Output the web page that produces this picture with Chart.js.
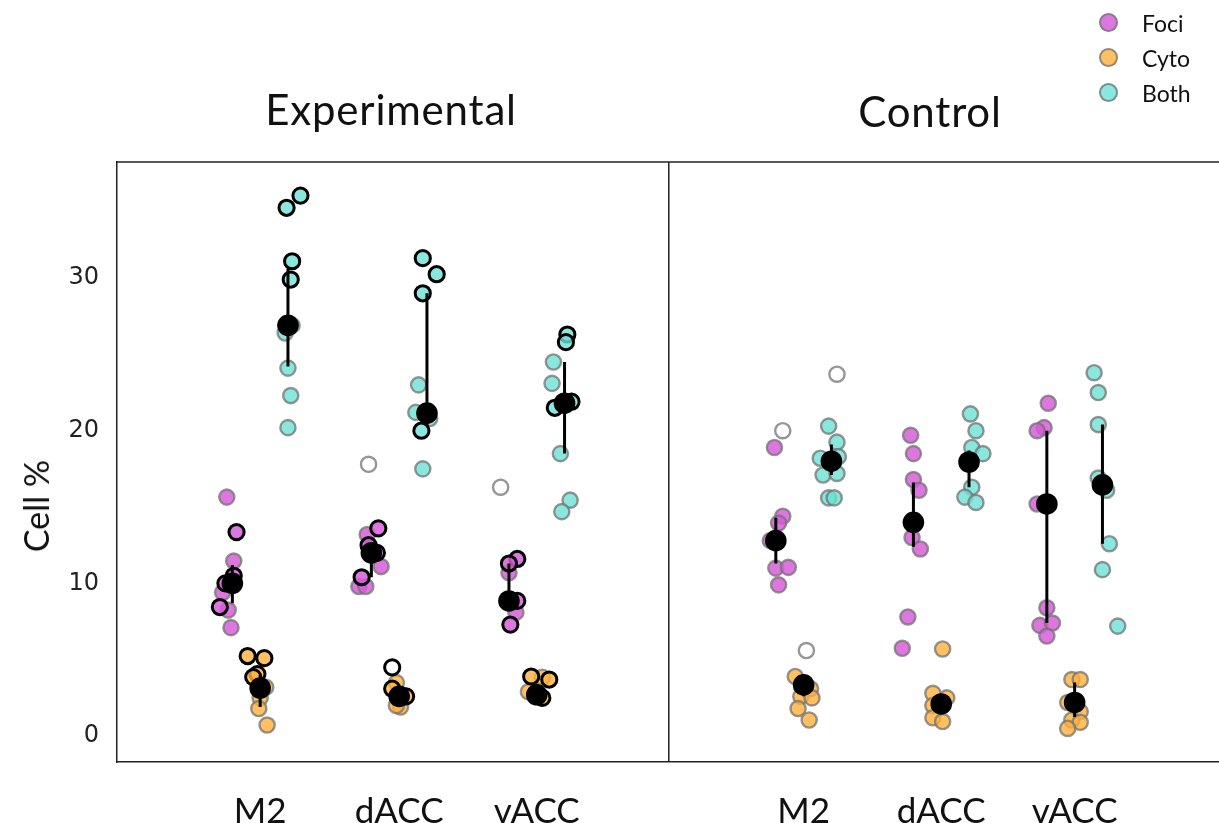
<!DOCTYPE html>
<html>
<head>
<meta charset="utf-8">
<script src="https://cdn.jsdelivr.net/npm/chart.js@4.4.1/dist/chart.umd.min.js"></script>
<style>
  html, body { margin: 0; padding: 0; background: #fff; overflow: hidden; }
  #wrap { position: relative; width: 1219px; height: 823px; overflow: hidden; }
  #chart { position: absolute; left: 0; top: 0; }
  .txt { position: absolute; font-family: Lato, 'Noto Sans', sans-serif; color: #111; white-space: nowrap; line-height: 1; transform: translate(-50%, -50%); }
  .panel-title { font-size: 42px; letter-spacing: 0.8px; }
  .y-title { font-size: 34px; transform: translate(-50%, -50%) rotate(-90deg); }
  .legend { position: absolute; left: 1099px; top: 5px; font-family: Lato, 'Noto Sans', sans-serif; font-size: 23px; color: #111; }
  .legend div { display: flex; align-items: center; height: 35px; }
  .legend span.dot { width: 15px; height: 15px; border-radius: 50%; border: 2.5px solid rgba(120,120,120,0.8); margin-right: 24px; }
</style>
</head>
<body>
<div id="wrap">
  <canvas id="chart" width="1230" height="823"></canvas>
  <div class="txt panel-title" style="left:391px; top:109px;">Experimental</div>
  <div class="txt panel-title" style="left:930px; top:111px;">Control</div>
  <div class="txt y-title" style="left:36px; top:506px;">Cell %</div>
  <div class="legend" id="legend"></div>
</div>
<script>
// ─── Data ─────────────────────────────────────────────────────────────────────
const panels  = ['Experimental', 'Control'];
const regions = ['M2', 'dACC', 'vACC'];
const groups  = ['Foci', 'Cyto', 'Both'];
const yTicks  = [0, 10, 20, 30];

// one entry per animal: [cell %, jitter from group centre, rim]
// rim: g = grey, b = bold, o = open grey, ob = open bold
const expM2Foci   = [[15.65, -0.04, 'g'], [13.36, 0.03, 'b'], [11.46, 0.01, 'g'], [10.5, 0.01, 'b'], [10.0, -0.05, 'b'], [9.4, -0.07, 'g'], [8.45, -0.09, 'b'], [8.25, -0.03, 'g'], [7.1, -0.01, 'g']];
const expM2Cyto   = [[5.24, -0.09, 'b'], [5.1, 0.03, 'b'], [4.06, -0.02, 'b'], [3.86, -0.05, 'b'], [3.2, 0.04, 'g'], [2.5, 0, 'g'], [1.8, -0.01, 'g'], [0.72, 0.05, 'g']];
const expM2Both   = [[35.4, 0.09, 'b'], [34.6, -0.01, 'b'], [31.1, 0.03, 'b'], [29.9, 0.02, 'b'], [26.9, 0.03, 'g'], [26.4, -0.02, 'g'], [24.1, 0, 'g'], [22.3, 0.02, 'g'], [20.2, 0, 'g']];
const expDaccFoci = [[17.8, -0.02, 'o'], [13.6, 0.05, 'b'], [13.2, -0.03, 'g'], [12.5, -0.02, 'b'], [12.0, 0.04, 'b'], [11.1, 0.07, 'g'], [10.4, -0.07, 'b'], [9.8, -0.09, 'g'], [9.8, -0.04, 'g']];
const expDaccCyto = [[4.5, -0.05, 'ob'], [3.5, -0.02, 'g'], [3.1, -0.05, 'b'], [2.6, 0.05, 'b'], [1.9, 0.01, 'g'], [2.0, -0.02, 'g']];
const expDaccBoth = [[31.3, -0.03, 'b'], [30.25, 0.07, 'b'], [29.0, -0.03, 'b'], [23.0, -0.06, 'g'], [21.2, -0.08, 'g'], [20.8, 0.02, 'g'], [20.0, -0.04, 'b'], [17.5, -0.03, 'g']];
const expVaccFoci = [[16.3, -0.06, 'o'], [11.6, 0.06, 'b'], [11.3, 0, 'b'], [10.7, 0, 'g'], [8.85, 0.06, 'b'], [8.1, 0.05, 'g'], [7.3, 0.01, 'b']];
const expVaccCyto = [[3.9, -0.04, 'b'], [3.7, 0.09, 'b'], [3.85, 0.04, 'g'], [2.9, -0.06, 'g'], [2.5, 0.04, 'b']];
const expVaccBoth = [[26.3, 0.02, 'b'], [25.8, 0.01, 'b'], [24.5, -0.08, 'g'], [23.1, -0.09, 'g'], [21.5, -0.07, 'b'], [21.9, 0.05, 'b'], [18.5, -0.03, 'g'], [15.45, 0.04, 'g'], [14.7, -0.02, 'g']];

const ctlM2Foci   = [[20.0, 0.05, 'o'], [18.9, -0.01, 'g'], [14.4, 0.05, 'g'], [13.95, 0.02, 'g'], [12.8, -0.04, 'g'], [11.0, 0, 'g'], [11.05, 0.09, 'g'], [9.9, 0.02, 'g']];
const ctlM2Cyto   = [[5.6, 0.02, 'o'], [3.9, -0.06, 'g'], [3.1, 0.05, 'g'], [2.6, -0.02, 'g'], [2.5, 0.06, 'g'], [1.8, -0.04, 'g'], [1.05, 0.04, 'g']];
const ctlM2Both   = [[23.7, 0.04, 'o'], [20.3, -0.02, 'g'], [19.25, 0.04, 'g'], [18.2, -0.08, 'g'], [18.3, 0.05, 'g'], [17.1, -0.06, 'g'], [17.2, 0.04, 'g'], [15.6, -0.02, 'g'], [15.6, 0.02, 'g']];
const ctlDaccFoci = [[19.7, -0.02, 'g'], [18.5, 0, 'g'], [16.8, 0, 'g'], [16.1, 0.04, 'g'], [13.0, -0.01, 'g'], [12.25, 0.05, 'g'], [7.8, -0.04, 'g'], [5.75, -0.08, 'g']];
const ctlDaccCyto = [[5.7, 0.01, 'g'], [2.8, -0.06, 'g'], [2.5, 0.04, 'g'], [2.0, -0.06, 'g'], [1.2, -0.06, 'g'], [0.95, 0.01, 'g']];
const ctlDaccBoth = [[21.1, 0.01, 'g'], [20.0, 0.05, 'g'], [18.9, 0.02, 'g'], [18.5, 0.1, 'g'], [16.3, 0.02, 'g'], [15.65, -0.03, 'g'], [15.3, 0.05, 'g']];
const ctlVaccFoci = [[21.8, 0.01, 'g'], [20.2, -0.02, 'g'], [20.0, -0.07, 'g'], [15.2, -0.07, 'g'], [8.4, 0, 'g'], [7.25, -0.05, 'g'], [7.4, 0.04, 'g'], [6.55, 0, 'g']];
const ctlVaccCyto = [[3.7, -0.02, 'g'], [3.7, 0.04, 'g'], [2.2, -0.05, 'g'], [1.6, 0.04, 'g'], [1.05, -0.02, 'g'], [0.9, 0.04, 'g'], [0.5, -0.05, 'g']];
const ctlVaccBoth = [[23.8, -0.06, 'g'], [22.5, -0.03, 'g'], [20.4, -0.03, 'g'], [16.9, -0.03, 'g'], [16.1, 0.03, 'g'], [12.6, 0.05, 'g'], [10.9, 0, 'g'], [7.2, 0.11, 'g']];

// summary per region (M2, dACC, vACC): [mean, low, high]
const expFociMean = [[10.0, 8.7, 11.2], [12.0, 10.4, 12.5], [8.85, 8.3, 11.3]];
const expCytoMean = [[3.14, 1.9, 4.0], [2.6, 2.3, 3.0], [2.7, 2.4, 3.1]];
const expBothMean = [[26.9, 24.2, 30.6], [21.15, 20.3, 29.0], [21.8, 18.5, 24.5]];
const ctlFociMean = [[12.8, 11.3, 14.3], [14.0, 12.4, 16.6], [15.2, 7.4, 20.0]];
const ctlCytoMean = [[3.35, 2.6, 3.6], [2.1, 1.5, 2.5], [2.2, 1.25, 3.5]];
const ctlBothMean = [[18.0, 17.1, 19.1], [17.95, 16.3, 18.7], [16.45, 12.6, 20.4]];

// ─── Layout / style ───────────────────────────────────────────────────────────
const regionPos  = [[1, 2, 2.99], [4.91, 5.9, 6.86]];
const groupShift = [-0.2, 0, 0.2];
const dividerAt  = 3.94;
const fills = ['rgba(216, 92, 218, 0.84)', 'rgba(255, 176, 58, 0.8)', 'rgba(108, 225, 213, 0.8)'];
const rimGrey = 'rgba(115, 115, 115, 0.75)';
const lineCol = '#222';

const pointSets = [
  [[expM2Foci, expDaccFoci, expVaccFoci], [expM2Cyto, expDaccCyto, expVaccCyto], [expM2Both, expDaccBoth, expVaccBoth]],
  [[ctlM2Foci, ctlDaccFoci, ctlVaccFoci], [ctlM2Cyto, ctlDaccCyto, ctlVaccCyto], [ctlM2Both, ctlDaccBoth, ctlVaccBoth]]
];
const meanSets = [[expFociMean, expCytoMean, expBothMean], [ctlFociMean, ctlCytoMean, ctlBothMean]];

// ─── Datasets ─────────────────────────────────────────────────────────────────
const boldRim = k => k === 'b' || k === 'ob';
const datasets = [];

groups.forEach((g, gi) => {
  const pts = [];
  panels.forEach((p, pi) => {
    regions.forEach((r, ri) => {
      pointSets[pi][gi][ri].forEach(([v, jit, kind]) => {
        pts.push({ x: regionPos[pi][ri] + groupShift[gi] + jit, y: v, kind });
      });
    });
  });
  // bold rims sit on top of the grey ones
  pts.sort((a, b) => boldRim(a.kind) - boldRim(b.kind));
  datasets.push({
    type: 'scatter',
    label: g,
    data: pts,
    order: 3,
    pointRadius: 7.6,
    pointBackgroundColor: pts.map(d => d.kind[0] === 'o' ? 'rgba(255,255,255,0)' : fills[gi]),
    pointBorderColor: pts.map(d => boldRim(d.kind) ? '#000' : rimGrey),
    pointBorderWidth: pts.map(d => boldRim(d.kind) ? 3 : 2.4)
  });
});

const barData = [];
const meanData = [];
meanSets.forEach((set, pi) => set.forEach((rows, gi) => rows.forEach(([m, lo, hi], ri) => {
  const x = regionPos[pi][ri] + groupShift[gi];
  barData.push({ x, y: lo }, { x, y: hi }, { x, y: null });
  meanData.push({ x, y: m });
})));

datasets.push({
  type: 'line', label: 'range', data: barData, order: 1,
  borderColor: '#000', borderWidth: 3, pointRadius: 0, spanGaps: false, fill: false
});
datasets.push({
  type: 'scatter', label: 'mean', data: meanData, order: 0,
  pointRadius: 10.8, pointBackgroundColor: '#000', pointBorderColor: '#000', pointBorderWidth: 0
});

// ─── Frame: top edge and panel divider ───────────────────────────────────────
const framePlugin = {
  id: 'frame',
  beforeDatasetsDraw(chart) {
    const { ctx, chartArea: a, scales: { x } } = chart;
    const xd = x.getPixelForValue(dividerAt);
    ctx.save();
    ctx.strokeStyle = lineCol;
    ctx.lineWidth = 1.5;
    ctx.beginPath();
    ctx.moveTo(a.left, a.top); ctx.lineTo(a.right, a.top);
    ctx.moveTo(xd, a.top); ctx.lineTo(xd, a.bottom);
    ctx.stroke();
    ctx.restore();
  }
};

const tickLabels = [...regions, ...regions];

new Chart(document.getElementById('chart'), {
  type: 'scatter',
  data: { datasets },
  options: {
    responsive: false,
    animation: false,
    events: [],
    layout: { padding: { top: 162, left: 0, right: 0, bottom: 0 } },
    plugins: { legend: { display: false }, tooltip: { enabled: false }, title: { display: false } },
    scales: {
      x: {
        type: 'linear', min: -0.03, max: 7.9,
        grid: { display: false },
        border: { display: true, color: lineCol, width: 1.5 },
        afterBuildTicks: s => { s.ticks = regionPos.flat().map(v => ({ value: v })); },
        afterFit: s => { s.height = 61; },
        ticks: {
          autoSkip: false, maxRotation: 0, padding: 21, color: '#111',
          font: { family: 'Lato, "Noto Sans", sans-serif', size: 35 },
          callback: (v, i) => tickLabels[i]
        }
      },
      y: {
        min: -1.7, max: 37.6,
        grid: { display: false },
        border: { display: true, color: lineCol, width: 1.5 },
        afterBuildTicks: s => { s.ticks = yTicks.map(v => ({ value: v })); },
        afterFit: s => { s.width = 117; },
        ticks: {
          padding: 10, color: '#222',
          font: { family: '"DejaVu Sans", Verdana, sans-serif', size: 24 }
        }
      }
    }
  },
  plugins: [framePlugin]
});

// ─── Legend ───────────────────────────────────────────────────────────────────
const legend = document.getElementById('legend');
groups.forEach((g, gi) => {
  const row = document.createElement('div');
  row.innerHTML = `<span class="dot" style="background:${fills[gi]}"></span><span>${g}</span>`;
  legend.appendChild(row);
});
</script>
</body>
</html>
